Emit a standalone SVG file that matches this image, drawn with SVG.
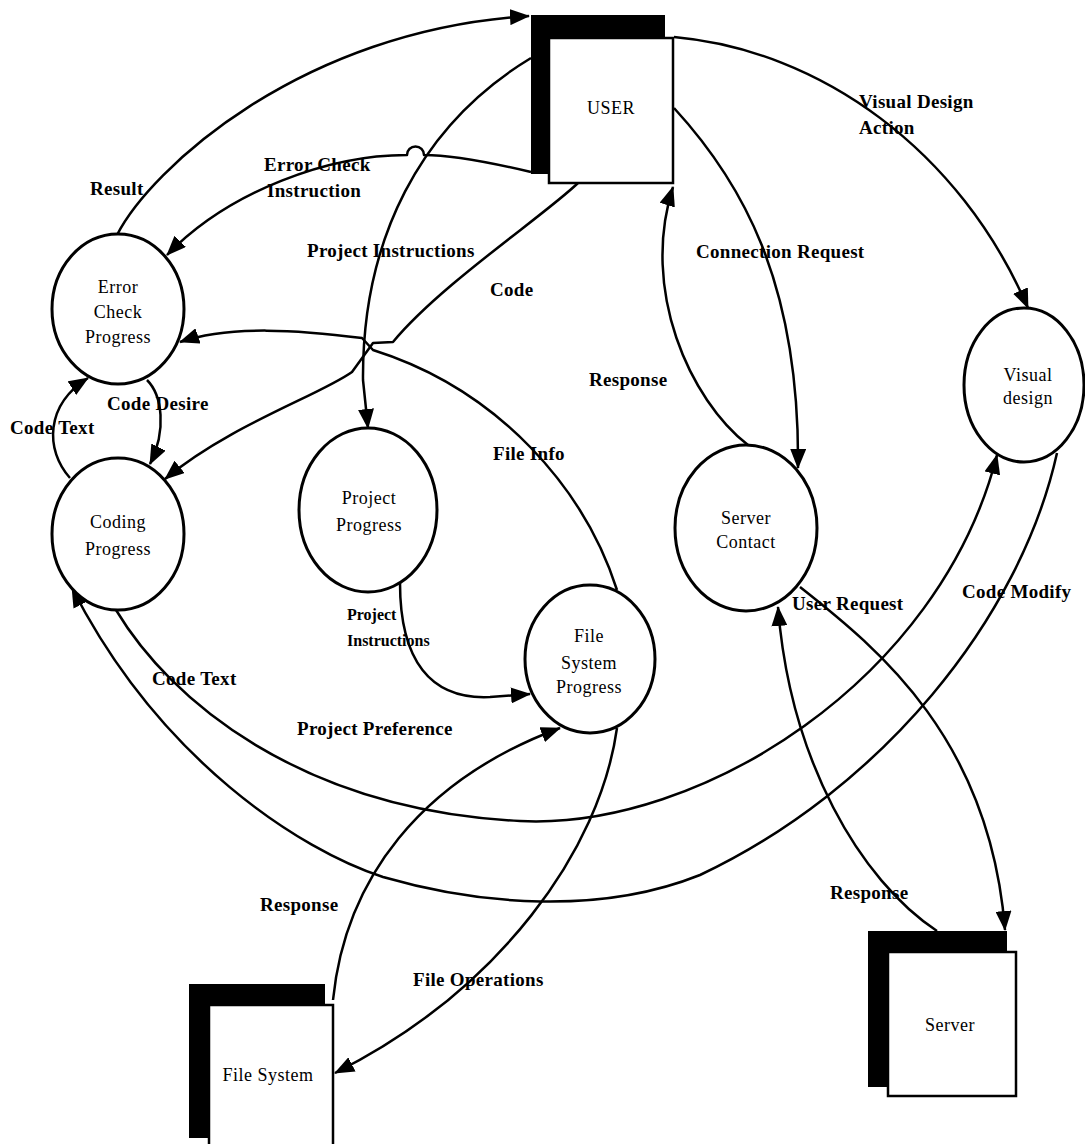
<svg xmlns="http://www.w3.org/2000/svg" width="1085" height="1144" viewBox="0 0 1085 1144">
  <style>
    .flow { fill: none; stroke: #000; stroke-width: 2.5; stroke-linejoin: round; }
    .arrow { marker-end: url(#head); }
    .proc { fill: #fff; stroke: #000; stroke-width: 3; }
    .shadow { fill: #000; }
    .box { fill: #fff; stroke: #000; stroke-width: 2.5; }
    .name { font-family: "Liberation Serif", "Times New Roman", serif; font-size: 18px; letter-spacing: 0.5px; text-anchor: middle; fill: #000; }
    .label { font-family: "Liberation Serif", "Times New Roman", serif; font-size: 19px; font-weight: bold; letter-spacing: 0.3px; fill: #000; }
    .small { font-size: 16px; letter-spacing: 0; }
  </style>
  <defs>
    <marker id="head" markerUnits="userSpaceOnUse" viewBox="0 0 20 16" markerWidth="20" markerHeight="16" refX="19" refY="8" orient="auto">
      <path d="M0,0 L20,8 L0,16 Z" fill="#000"/>
    </marker>
  </defs>

  <rect width="1085" height="1144" fill="#fff"/>

  <!-- data flows -->
  <g id="connectors">
    <!-- Result -->
    <path class="flow arrow" d="M117,235 C150,170 300,30 529,16"/>
    <!-- Error Check Instruction -->
    <path class="flow arrow" d="M531,172 C480,160 450,155 424,155 A8.5,8.5 0 0 0 407,155 C330,155 230,190 167,255"/>
    <!-- Project Instructions -->
    <path class="flow arrow" d="M531,58 C420,125 362,240 363,380 L368,428"/>
    <!-- Code -->
    <path class="flow arrow" d="M578,183 C545,215 440,285 393,342 L373,343 L352,372 C320,395 230,425 165,479"/>
    <!-- File Info -->
    <path class="flow arrow" d="M617,590 C585,490 500,390 373,350 L362,338 C300,330 230,325 180,342"/>
    <!-- Code Desire -->
    <path class="flow arrow" d="M147,380 C162,395 167,430 150,464"/>
    <!-- Code Text (loop to Error Check) -->
    <path class="flow arrow" d="M70,478 C45,450 45,405 88,378"/>
    <!-- Code Text (to Visual design) -->
    <path class="flow arrow" d="M116,610 C170,700 300,810 520,821 C700,830 940,680 997,455"/>
    <!-- Code Modify -->
    <path class="flow arrow" d="M1057,453 C1020,620 880,790 700,875 C600,915 480,905 383,877 C300,850 160,760 72,588"/>
    <!-- Visual Design Action -->
    <path class="flow arrow" d="M674,37 C820,50 960,150 1028,308"/>
    <!-- Connection Request -->
    <path class="flow arrow" d="M674,108 C740,180 800,280 798,468"/>
    <!-- Response to USER -->
    <path class="flow arrow" d="M748,445 C690,400 640,290 673,187"/>
    <!-- User Request -->
    <path class="flow arrow" d="M800,587 C880,650 990,740 1005,930"/>
    <!-- Response from Server -->
    <path class="flow arrow" d="M937,931 C860,880 790,760 778,607"/>
    <!-- Project Instructions (to File System Progress) -->
    <path class="flow arrow" d="M400,583 C400,660 430,700 490,697 L530,694"/>
    <!-- Project Preference -->
    <path class="flow arrow" d="M333,1000 C345,880 420,780 560,728"/>
    <!-- File Operations -->
    <path class="flow arrow" d="M617,728 C600,850 500,990 335,1073"/>
  </g>

  <!-- external entities -->
  <g id="user">
    <rect class="shadow" x="531" y="15" width="134" height="159"/>
    <rect class="box" x="549" y="38" width="124" height="145"/>
    <text class="name" x="611" y="114">USER</text>
  </g>
  <g id="file-system">
    <rect class="shadow" x="189" y="984" width="136" height="154"/>
    <rect class="box" x="209" y="1005" width="124" height="145"/>
    <text class="name" x="268" y="1081">File System</text>
  </g>
  <g id="server">
    <rect class="shadow" x="868" y="931" width="139" height="156"/>
    <rect class="box" x="888" y="952" width="128" height="144"/>
    <text class="name" x="950" y="1031">Server</text>
  </g>

  <!-- processes -->
  <g id="error-check-progress">
    <ellipse class="proc" cx="118" cy="309" rx="66" ry="75"/>
    <text class="name" x="118" y="293">Error</text>
    <text class="name" x="118" y="318">Check</text>
    <text class="name" x="118" y="343">Progress</text>
  </g>
  <g id="coding-progress">
    <ellipse class="proc" cx="118" cy="534" rx="66" ry="76"/>
    <text class="name" x="118" y="528">Coding</text>
    <text class="name" x="118" y="555">Progress</text>
  </g>
  <g id="project-progress">
    <ellipse class="proc" cx="368" cy="510" rx="69" ry="82"/>
    <text class="name" x="369" y="504">Project</text>
    <text class="name" x="369" y="531">Progress</text>
  </g>
  <g id="file-system-progress">
    <ellipse class="proc" cx="590" cy="659" rx="65" ry="74"/>
    <text class="name" x="589" y="642">File</text>
    <text class="name" x="589" y="669">System</text>
    <text class="name" x="589" y="693">Progress</text>
  </g>
  <g id="server-contact">
    <ellipse class="proc" cx="746" cy="528" rx="71" ry="83"/>
    <text class="name" x="746" y="524">Server</text>
    <text class="name" x="746" y="548">Contact</text>
  </g>
  <g id="visual-design">
    <ellipse class="proc" cx="1024" cy="385" rx="60" ry="77"/>
    <text class="name" x="1028" y="381">Visual</text>
    <text class="name" x="1028" y="404">design</text>
  </g>

  <!-- flow labels -->
  <g id="labels">
    <text class="label" x="90" y="195">Result</text>
    <text class="label" x="264" y="171">Error Check</text>
    <text class="label" x="267" y="197">Instruction</text>
    <text class="label" x="307" y="257">Project Instructions</text>
    <text class="label" x="490" y="296">Code</text>
    <text class="label" x="107" y="410">Code Desire</text>
    <text class="label" x="10" y="434">Code Text</text>
    <text class="label" x="493" y="460">File Info</text>
    <text class="label" x="152" y="685">Code Text</text>
    <text class="label" x="297" y="735">Project Preference</text>
    <text class="label small" x="347" y="620">Project</text>
    <text class="label small" x="347" y="646">Instructions</text>
    <text class="label" x="589" y="386">Response</text>
    <text class="label" x="696" y="258">Connection Request</text>
    <text class="label" x="859" y="108">Visual Design</text>
    <text class="label" x="859" y="134">Action</text>
    <text class="label" x="792" y="610">User Request</text>
    <text class="label" x="962" y="598">Code Modify</text>
    <text class="label" x="260" y="911">Response</text>
    <text class="label" x="413" y="986">File Operations</text>
    <text class="label" x="830" y="899">Response</text>
  </g>
</svg>
